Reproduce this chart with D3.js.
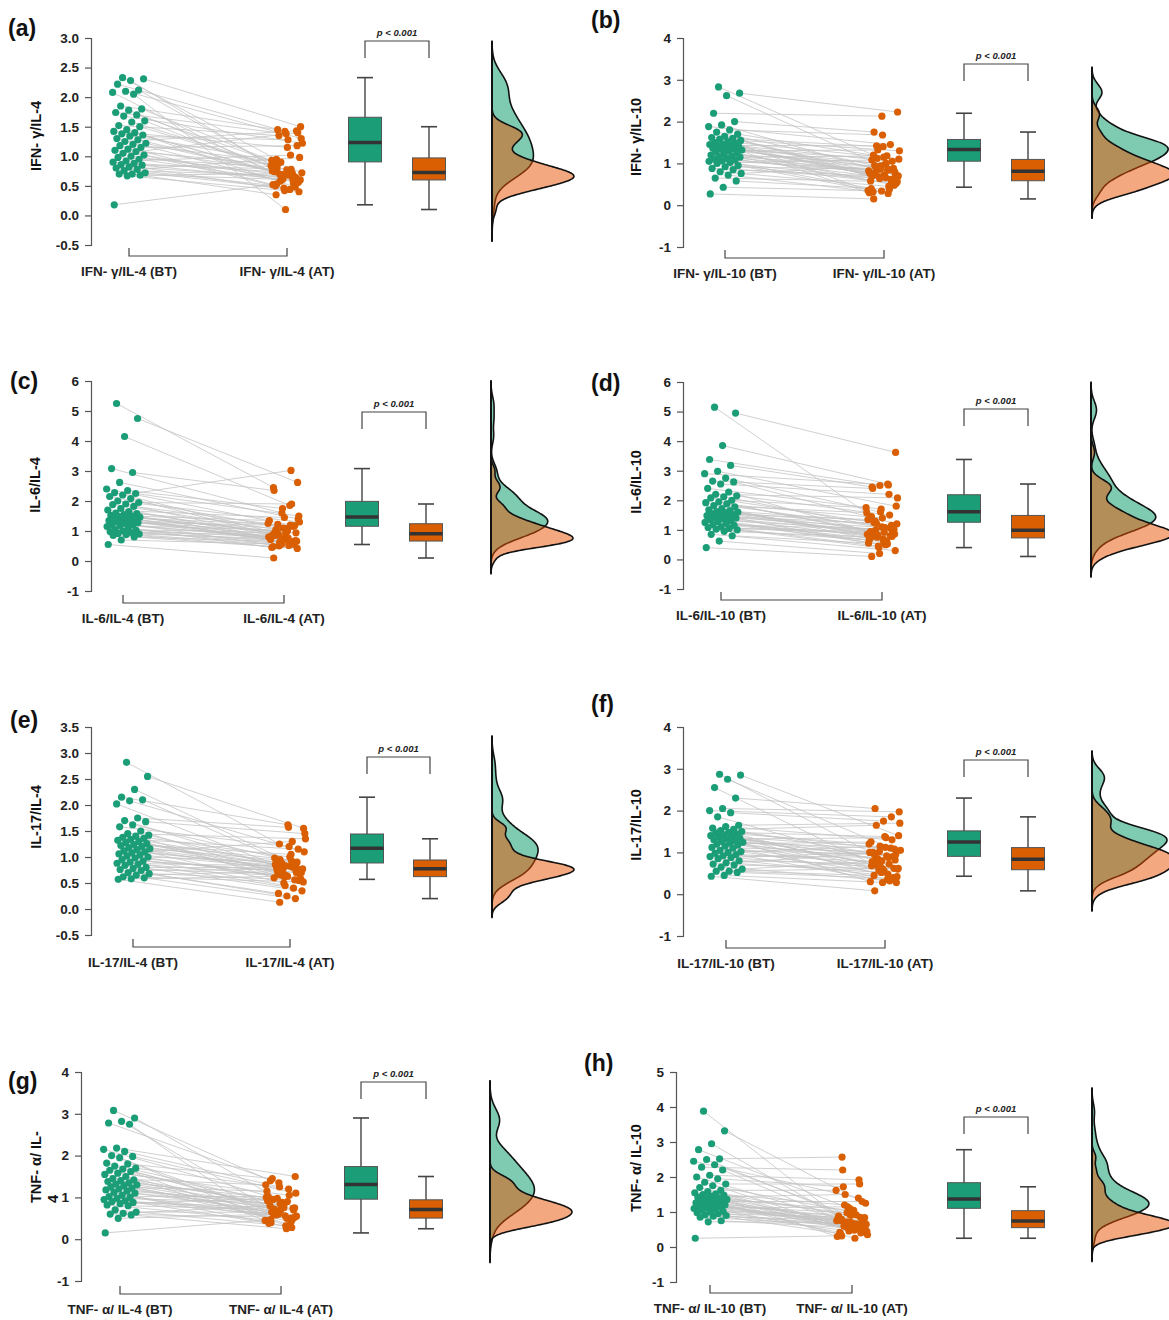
<!DOCTYPE html>
<html>
<head>
<meta charset="utf-8">
<script src="https://cdn.jsdelivr.net/npm/d3@7"></script>
<style>
  body { margin: 0; background: #fff; }
  text { font-family: "Liberation Sans", Arial, sans-serif; }
</style>
</head>
<body>
<svg id="chart" width="1169" height="1320"></svg>
<script>
// ---- data (ratios before / after treatment, paired by index) ----
const BT_a = [2.33,2.31,2.28,2.22,2.12,2.10,2.08,2.05,1.85,1.80,1.78,1.74,1.70,1.68,1.60,1.58,1.52,1.50,1.45,1.42,1.40,1.38,1.36,1.34,1.30,1.28,1.25,1.22,1.20,1.18,1.15,1.12,1.10,1.08,1.05,1.02,1.00,0.98,0.95,0.92,0.90,0.88,0.86,0.85,0.82,0.80,0.78,0.76,0.72,0.70,0.70,0.68,0.67,0.18];
const AT_a = [0.95,1.50,0.62,1.42,0.80,1.30,0.55,0.10,1.45,0.72,0.66,1.38,0.88,1.22,0.60,0.77,1.35,0.84,0.48,1.15,0.70,0.93,0.64,1.28,0.58,0.75,1.43,0.68,0.90,0.52,1.18,0.73,0.63,0.86,1.40,0.44,0.69,0.82,0.56,1.02,0.61,0.74,0.40,0.78,0.65,0.50,0.98,0.67,0.46,0.35,0.60,0.71,0.42,0.53];

const BT_b = [2.83,2.68,2.62,2.20,2.00,1.92,1.88,1.80,1.75,1.70,1.65,1.62,1.60,1.58,1.55,1.52,1.50,1.48,1.46,1.45,1.43,1.42,1.40,1.38,1.36,1.35,1.34,1.32,1.30,1.28,1.25,1.22,1.20,1.18,1.16,1.15,1.12,1.10,1.08,1.06,1.05,1.02,1.00,0.95,0.92,0.88,0.85,0.80,0.76,0.72,0.65,0.58,0.43,0.27];
const AT_b = [1.20,2.23,0.85,2.13,1.75,0.70,1.45,1.68,0.95,1.10,0.62,1.40,0.78,1.30,0.55,1.15,0.90,0.35,1.05,0.72,1.42,0.82,0.60,0.98,1.12,0.30,0.88,0.66,1.32,0.76,0.48,1.00,0.92,0.58,0.80,1.18,0.68,0.40,0.74,0.84,0.64,1.08,0.52,0.28,0.86,0.70,0.62,0.45,0.94,0.32,0.56,0.38,0.34,0.15];

const BT_c = [5.25,4.75,4.15,3.08,2.95,2.62,2.40,2.35,2.28,2.25,2.20,2.15,2.08,2.00,1.95,1.90,1.88,1.82,1.75,1.70,1.65,1.60,1.58,1.55,1.52,1.50,1.48,1.46,1.44,1.42,1.40,1.38,1.35,1.32,1.30,1.28,1.25,1.22,1.20,1.18,1.15,1.10,1.05,1.02,1.00,0.98,0.95,0.92,0.90,0.88,0.85,0.80,0.70,0.55];
const AT_c = [2.45,2.62,1.85,1.60,2.35,1.40,1.20,1.75,0.95,1.50,3.02,1.10,0.85,1.30,1.90,0.75,1.05,1.25,0.65,1.45,0.90,0.80,1.15,0.70,1.00,1.35,0.60,0.92,1.22,0.78,0.55,1.08,0.88,0.72,1.18,0.98,0.50,0.82,0.68,1.02,0.62,0.45,0.94,0.76,0.58,0.86,0.66,0.52,0.74,0.48,0.42,0.64,0.56,0.10];

const BT_d = [5.15,4.95,3.85,3.38,3.18,2.98,2.90,2.75,2.65,2.62,2.55,2.40,2.28,2.20,2.15,2.12,2.08,2.00,1.95,1.92,1.88,1.82,1.78,1.72,1.68,1.65,1.62,1.60,1.58,1.55,1.52,1.50,1.48,1.45,1.42,1.40,1.38,1.35,1.30,1.28,1.25,1.22,1.18,1.15,1.10,1.08,1.05,1.02,1.00,0.95,0.85,0.80,0.62,0.40];
const AT_d = [1.45,3.62,2.55,2.50,2.45,1.80,2.52,1.60,2.40,1.20,2.20,1.70,0.90,2.08,1.50,1.10,1.25,1.75,0.80,1.40,0.95,1.58,1.05,0.70,1.30,0.85,1.15,0.60,1.00,1.35,0.78,0.92,1.22,0.55,0.88,1.08,0.75,0.65,0.98,0.50,0.82,0.72,1.02,0.58,0.45,0.94,0.86,0.62,0.40,0.76,0.30,0.52,0.20,0.10];

const BT_e = [2.82,2.55,2.30,2.15,2.10,2.08,2.02,1.75,1.70,1.68,1.62,1.58,1.50,1.45,1.42,1.40,1.38,1.36,1.34,1.32,1.30,1.28,1.26,1.24,1.22,1.20,1.18,1.16,1.14,1.12,1.10,1.08,1.06,1.04,1.02,1.00,0.98,0.95,0.92,0.90,0.88,0.86,0.84,0.80,0.78,0.76,0.74,0.70,0.68,0.65,0.62,0.60,0.58,0.57];
const AT_e = [1.25,1.55,0.85,1.62,0.95,1.10,0.70,1.57,0.80,1.45,0.90,1.20,0.65,1.35,0.75,1.00,0.88,0.60,1.15,0.82,0.72,0.98,0.55,1.05,0.78,0.86,0.68,0.92,0.50,0.84,0.76,1.30,0.62,0.80,0.58,0.90,0.45,0.74,0.70,0.40,0.83,0.66,0.35,0.79,0.64,0.30,0.77,0.56,0.25,0.72,0.52,0.20,0.63,0.13];

const BT_f = [2.87,2.85,2.75,2.55,2.30,2.05,2.00,1.95,1.85,1.65,1.62,1.58,1.55,1.52,1.50,1.48,1.46,1.44,1.42,1.40,1.38,1.36,1.34,1.32,1.30,1.28,1.26,1.24,1.22,1.20,1.18,1.15,1.12,1.10,1.05,1.02,1.00,0.98,0.95,0.92,0.90,0.88,0.85,0.80,0.75,0.72,0.70,0.65,0.60,0.55,0.55,0.52,0.45,0.43];
const AT_f = [0.95,1.40,1.10,0.60,2.05,1.97,1.85,1.75,0.80,1.70,1.30,0.55,1.65,1.05,0.90,1.38,0.70,1.20,0.40,1.12,0.85,1.00,0.62,1.35,0.75,0.30,1.08,0.92,0.58,1.25,0.82,0.35,1.02,0.68,0.95,0.48,1.15,0.78,0.28,0.88,0.65,1.00,0.42,0.72,0.52,0.98,0.60,0.32,0.80,0.45,0.62,0.38,0.28,0.08];

const BT_g = [3.08,2.90,2.82,2.78,2.75,2.18,2.15,2.10,2.00,1.98,1.95,1.82,1.80,1.75,1.70,1.68,1.65,1.62,1.58,1.55,1.50,1.45,1.42,1.40,1.38,1.35,1.32,1.30,1.28,1.25,1.22,1.20,1.18,1.15,1.12,1.10,1.05,1.02,1.00,0.98,0.95,0.92,0.90,0.88,0.85,0.82,0.80,0.70,0.65,0.62,0.60,0.58,0.50,0.15];
const AT_g = [1.40,0.75,0.50,1.35,0.40,1.50,0.90,1.25,0.65,1.10,0.30,0.85,1.45,0.55,1.20,0.70,0.95,0.45,1.05,0.80,0.60,1.30,0.35,0.88,0.72,1.00,0.50,0.78,0.62,1.15,0.42,0.82,0.68,0.92,0.28,0.76,0.58,1.02,0.48,0.86,0.66,0.38,0.74,0.56,0.98,0.45,0.70,0.32,0.64,0.80,0.52,0.25,0.60,0.47];

const BT_h = [3.88,3.32,2.95,2.78,2.52,2.50,2.45,2.35,2.28,2.20,2.05,2.00,1.95,1.85,1.80,1.75,1.70,1.62,1.58,1.55,1.52,1.50,1.48,1.45,1.42,1.40,1.38,1.36,1.35,1.32,1.30,1.28,1.26,1.24,1.22,1.20,1.18,1.16,1.15,1.12,1.10,1.08,1.05,1.02,1.00,0.98,0.95,0.92,0.90,0.88,0.85,0.75,0.72,0.25];
const AT_h = [0.80,1.25,0.55,1.10,2.57,0.65,1.40,0.90,2.20,0.45,1.92,0.70,1.72,0.35,1.80,1.00,0.60,1.62,0.85,0.50,1.20,0.75,0.40,0.95,1.50,0.30,0.68,1.05,0.58,0.82,1.30,0.48,0.72,0.88,0.62,0.25,0.98,0.78,0.52,0.66,1.15,0.42,0.74,0.92,0.56,0.38,0.84,0.64,0.46,0.76,0.60,0.54,0.70,0.32];

const panelNames = ["(a)","(b)","(c)","(d)","(e)","(f)","(g)","(h)"];
const yTitles = ["IFN- \u03b3/IL-4","IFN- \u03b3/IL-10","IL-6/IL-4","IL-6/IL-10","IL-17/IL-4","IL-17/IL-10","TNF- \u03b1/ IL-","TNF- \u03b1/ IL-10"];
const btLabels = ["IFN- \u03b3/IL-4 (BT)","IFN- \u03b3/IL-10 (BT)","IL-6/IL-4 (BT)","IL-6/IL-10 (BT)","IL-17/IL-4 (BT)","IL-17/IL-10 (BT)","TNF- \u03b1/ IL-4 (BT)","TNF- \u03b1/ IL-10 (BT)"];
const atLabels = ["IFN- \u03b3/IL-4 (AT)","IFN- \u03b3/IL-10 (AT)","IL-6/IL-4 (AT)","IL-6/IL-10 (AT)","IL-17/IL-4 (AT)","IL-17/IL-10 (AT)","TNF- \u03b1/ IL-4 (AT)","TNF- \u03b1/ IL-10 (AT)"];
const yDomains = [[-0.5,3],[-1,4],[-1,6],[-1,6],[-0.5,3.5],[-1,4],[-1,4],[-1,5]];
const yTickSteps = [0.5,1,1,1,0.5,1,1,1];
const pLabel = "p < 0.001";

const panels = [
  {bt: BT_a, at: AT_a}, {bt: BT_b, at: AT_b}, {bt: BT_c, at: AT_c}, {bt: BT_d, at: AT_d},
  {bt: BT_e, at: AT_e}, {bt: BT_f, at: AT_f}, {bt: BT_g, at: AT_g}, {bt: BT_h, at: AT_h}
];

// ---- layout (pixel positions of each panel) ----
const layout = [
  {label:[8,36],    axisX:91,  yTop:38,   yBot:245,  titleX:41,  titleY:136,  btX:129, atX:287, brY:256,  boxG:365, boxO:429,  pY:41,   densX:492},
  {label:[591,28],  axisX:683, yTop:38,   yBot:247,  titleX:641, titleY:137,  btX:725, atX:884, brY:258,  boxG:964, boxO:1028, pY:64,   densX:1092},
  {label:[10,389],  axisX:91,  yTop:381,  yBot:591,  titleX:40,  titleY:485,  btX:123, atX:284, brY:603,  boxG:362, boxO:426,  pY:412,  densX:491},
  {label:[591,391], axisX:683, yTop:382,  yBot:589,  titleX:641, titleY:482,  btX:721, atX:882, brY:600,  boxG:964, boxO:1028, pY:409,  densX:1091},
  {label:[10,728],  axisX:91,  yTop:727,  yBot:935,  titleX:41,  titleY:817,  btX:133, atX:290, brY:947,  boxG:367, boxO:430,  pY:757,  densX:492},
  {label:[591,712], axisX:683, yTop:727,  yBot:936,  titleX:641, titleY:825,  btX:726, atX:885, brY:948,  boxG:964, boxO:1028, pY:760,  densX:1092},
  {label:[8,1089],  axisX:81,  yTop:1072, yBot:1281, titleX:41,  titleY:1203, btX:120, atX:281, brY:1294, boxG:361, boxO:426,  pY:1082, densX:490},
  {label:[584,1071],axisX:676, yTop:1072, yBot:1282, titleX:641, titleY:1168, btX:710, atX:852, brY:1293, boxG:964, boxO:1028, pY:1117, densX:1092}
];

const GREEN = "#1b9e77", ORANGE = "#d95f02";
const svg = d3.select("#chart");

const fmtHalf = d => d3.format(".1f")(d).replace("\u2212", "-");
const fmtInt = d => d3.format("d")(d).replace("\u2212", "-");

// deterministic horizontal jitter
function jitBT(i) { return ((i * 0.6180339887 + 0.31) % 1) - 0.5; }
function jitAT(i) { return ((i * 0.7548776662 + 0.17) % 1) - 0.5; }

function bwNrd0(v) {
  const s = v.slice().sort(d3.ascending);
  const iqr = d3.quantileSorted(s, 0.75) - d3.quantileSorted(s, 0.25);
  return 0.9 * Math.min(d3.deviation(v), iqr / 1.34) * Math.pow(v.length, -0.2);
}
function kde(v) {
  const bw = bwNrd0(v);
  const lo = d3.min(v) - 3 * bw, hi = d3.max(v) + 3 * bw;
  return d3.range(0, 201).map(k => {
    const t = lo + (hi - lo) * k / 200;
    const d = d3.mean(v, x => Math.exp(-0.5 * ((t - x) / bw) ** 2)) / (bw * Math.sqrt(2 * Math.PI));
    return [t, d];
  });
}
function boxStats(v) {
  const s = v.slice().sort(d3.ascending);
  const q1 = d3.quantileSorted(s, 0.25), med = d3.quantileSorted(s, 0.5), q3 = d3.quantileSorted(s, 0.75);
  const iqr = q3 - q1;
  return {q1, med, q3,
    lo: d3.min(s.filter(x => x >= q1 - 1.5 * iqr)),
    hi: d3.max(s.filter(x => x <= q3 + 1.5 * iqr))};
}

panels.forEach((p, k) => {
  const L = layout[k];
  const g = svg.append("g");
  const y = d3.scaleLinear().domain(yDomains[k]).range([L.yBot, L.yTop]);
  const x = d3.scalePoint().domain(["BT", "AT"]).range([L.btX, L.atX]);
  const xb = d3.scalePoint().domain(["BT", "AT"]).range([L.boxG, L.boxO]);

  // panel letter
  g.append("text").attr("x", L.label[0]).attr("y", L.label[1])
    .attr("font-size", 23).attr("font-weight", "bold").attr("fill", "#111")
    .text(panelNames[k]);

  // y axis
  const ticks = d3.range(yDomains[k][0], yDomains[k][1] + 1e-9, yTickSteps[k]);
  const ax = g.append("g").attr("transform", `translate(${L.axisX},0)`)
    .call(d3.axisLeft(y).tickValues(ticks)
      .tickFormat(yTickSteps[k] < 1 ? fmtHalf : fmtInt)
      .tickSizeOuter(0).tickSize(6).tickPadding(6));
  ax.selectAll("path,line").attr("stroke", "#555").attr("stroke-width", 1.2);
  ax.selectAll("text").attr("font-size", 13.5).attr("font-weight", "bold").attr("fill", "#222")
    .style("font-family", '"Liberation Sans", Arial, sans-serif');

  // y title
  const tt = g.append("text")
    .attr("transform", `translate(${L.titleX},${L.titleY}) rotate(-90)`)
    .attr("font-size", 14.5).attr("font-weight", "bold").attr("fill", "#111");
  if (k === 6) {
    tt.attr("text-anchor", "start");
    tt.append("tspan").attr("x", 0).attr("y", 0).text(yTitles[k]);
    tt.append("tspan").attr("x", 0).attr("y", 0).attr("dy", 17).text("4");
  } else {
    tt.attr("text-anchor", "middle").text(yTitles[k]);
  }

  // x bracket + labels
  g.append("path")
    .attr("d", `M${x("BT")},${L.brY - 8}V${L.brY}H${x("AT")}V${L.brY - 8}`)
    .attr("fill", "none").attr("stroke", "#444").attr("stroke-width", 1.2);
  g.append("text").attr("x", x("BT")).attr("y", L.brY + 20).attr("text-anchor", "middle")
    .attr("font-size", 13.5).attr("font-weight", "bold").attr("fill", "#222").text(btLabels[k]);
  g.append("text").attr("x", x("AT")).attr("y", L.brY + 20).attr("text-anchor", "middle")
    .attr("font-size", 13.5).attr("font-weight", "bold").attr("fill", "#222").text(atLabels[k]);

  // paired lines
  const pairs = p.bt.map((v, i) => ({
    x1: x("BT") + jitBT(i) * 34, y1: y(v),
    x2: x("AT") + jitAT(i) * 32, y2: y(p.at[i])
  }));
  g.append("g").selectAll("line").data(pairs).join("line")
    .attr("x1", d => d.x1).attr("y1", d => d.y1)
    .attr("x2", d => d.x2).attr("y2", d => d.y2)
    .attr("stroke", "#c4c4c4").attr("stroke-width", 0.8);
  g.append("g").selectAll("circle").data(pairs).join("circle")
    .attr("cx", d => d.x1).attr("cy", d => d.y1).attr("r", 3.6).attr("fill", GREEN);
  g.append("g").selectAll("circle").data(pairs).join("circle")
    .attr("cx", d => d.x2).attr("cy", d => d.y2).attr("r", 3.6).attr("fill", ORANGE);

  // box plots
  [["BT", p.bt, GREEN], ["AT", p.at, ORANGE]].forEach(([key, vals, col]) => {
    const s = boxStats(vals);
    const cx = xb(key), bw = 33, cw = 16;
    const bg = g.append("g");
    bg.append("line").attr("x1", cx).attr("x2", cx).attr("y1", y(s.hi)).attr("y2", y(s.lo))
      .attr("stroke", "#444").attr("stroke-width", 1.4);
    [s.hi, s.lo].forEach(v => bg.append("line")
      .attr("x1", cx - cw / 2).attr("x2", cx + cw / 2).attr("y1", y(v)).attr("y2", y(v))
      .attr("stroke", "#444").attr("stroke-width", 1.6));
    bg.append("rect").attr("x", cx - bw / 2).attr("width", bw)
      .attr("y", y(s.q3)).attr("height", y(s.q1) - y(s.q3))
      .attr("fill", col).attr("stroke", "#555").attr("stroke-width", 1);
    bg.append("line").attr("x1", cx - bw / 2).attr("x2", cx + bw / 2)
      .attr("y1", y(s.med)).attr("y2", y(s.med))
      .attr("stroke", "#333").attr("stroke-width", 3.5);
  });

  // significance bracket
  g.append("path")
    .attr("d", `M${xb("BT")},${L.pY + 17}V${L.pY}H${xb("AT")}V${L.pY + 17}`)
    .attr("fill", "none").attr("stroke", "#444").attr("stroke-width", 1.2);
  g.append("text").attr("x", (xb("BT") + xb("AT")) / 2).attr("y", L.pY - 5)
    .attr("text-anchor", "middle").attr("font-size", 9.5).attr("font-weight", "bold")
    .attr("font-style", "italic").attr("fill", "#222").text(pLabel);

  // half-violin densities
  const dG = kde(p.bt), dO = kde(p.at);
  const maxD = d3.max(dG.concat(dO), d => d[1]);
  const w = d3.scaleLinear().domain([0, maxD]).range([0, 82]);
  const area = d3.area().y(d => y(d[0])).x0(0).x1(d => w(d[1])).curve(d3.curveBasis);
  const dg = g.append("g").attr("transform", `translate(${L.densX},0)`);
  dg.append("path").datum(dG).attr("d", area)
    .attr("fill", "#2aa87e").attr("fill-opacity", 0.6)
    .attr("stroke", "#111").attr("stroke-width", 1.6);
  dg.append("path").datum(dO).attr("d", area)
    .attr("fill", "#e95100").attr("fill-opacity", 0.5)
    .attr("stroke", "#111").attr("stroke-width", 1.6);
  const yLo = Math.min(dG[0][0], dO[0][0]), yHi = Math.max(dG[200][0], dO[200][0]);
  dg.append("line").attr("x1", 0).attr("x2", 0).attr("y1", y(yHi)).attr("y2", y(yLo))
    .attr("stroke", "#111").attr("stroke-width", 2);
});
</script>
</body>
</html>
